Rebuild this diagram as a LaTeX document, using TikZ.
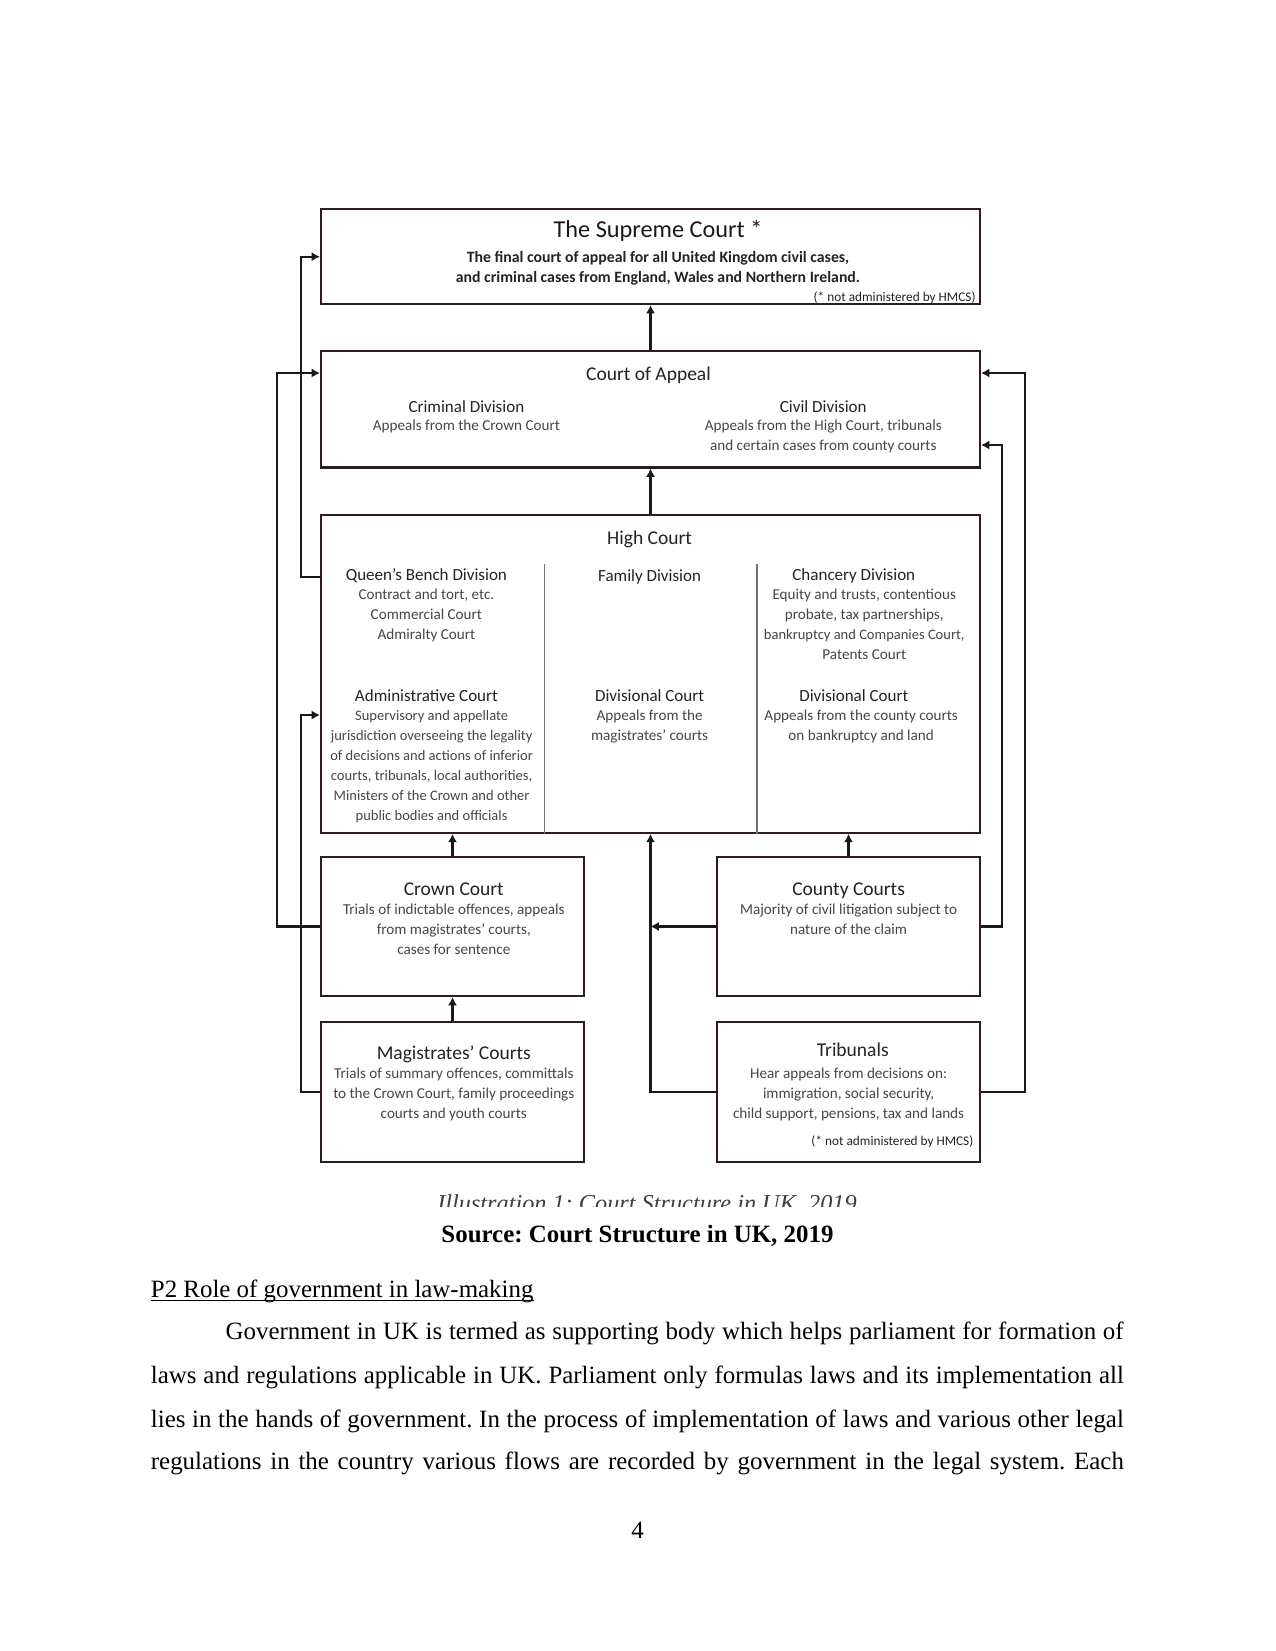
\documentclass[tikz,border=0pt]{standalone}
\usepackage{fontspec}
\setmainfont{Liberation Serif}
\newfontfamily\gs{Carlito}
\usetikzlibrary{arrows.meta,fit,calc}
\definecolor{boxcol}{RGB}{48,28,40}
\definecolor{txt}{RGB}{35,35,35}
\definecolor{txtb}{RGB}{70,70,70}
\frenchspacing
\begin{document}
\begin{tikzpicture}[x=0.48bp,y=-0.48bp,
  box/.style={draw=boxcol, line width=1bp, inner sep=0pt},
  conn/.style={draw=black!90, line width=1.05bp, -{Latex[length=4bp,width=4.4bp]}},
  divl/.style={draw=black!55, line width=0.55bp},
  ttl/.style={font=\gs\fontsize{11.7}{13}\selectfont, text=black!90, inner sep=0pt, anchor=mid},
  sub/.style={font=\gs\bfseries\fontsize{7.6}{9}\selectfont, text=txt, inner sep=0pt, anchor=mid},
  hd/.style={font=\gs\fontsize{9.4}{11}\selectfont, text=txt, inner sep=0pt, anchor=mid},
  dh/.style={font=\gs\fontsize{8.2}{10}\selectfont, text=txt, inner sep=0pt, anchor=mid},
  st/.style={font=\gs\fontsize{7.3}{9.6}\selectfont, text=txtb, inner sep=0pt, anchor=mid},
  sta/.style={st, font=\gs\fontsize{7.0}{9.6}\selectfont},
  note/.style={font=\gs\fontsize{6.4}{7}\selectfont, text=txt, inner sep=0pt, anchor=mid east},
  body/.style={font=\fontsize{12}{14}\selectfont, inner sep=0pt, anchor=base west},
  captxt/.style={font=\itshape\fontsize{11.7}{14}\selectfont, text=black!75, inner sep=0pt, anchor=base},
  src/.style={font=\bfseries\fontsize{12}{14}\selectfont, inner sep=0pt, anchor=base}]
\useasboundingbox[fill=white] (0,0) rectangle (1275,1651);

% boxes
\node[box, fit={(321,209) (980,304)}] (sc) {};
\node[box, fit={(321,351) (980,467.5)}] (coa) {};
\node[box, fit={(321,515) (980,832.8)}] (hc) {};
\node[box, fit={(321,857) (584,996)}] (cc) {};
\node[box, fit={(717,857) (980,996)}] (co) {};
\node[box, fit={(321,1022) (584,1162)}] (mc) {};
\node[box, fit={(717,1022) (980,1162)}] (tr) {};

% High Court dividers
\coordinate (d1t) at (544.3,564);
\coordinate (d2t) at (757,564);
\draw[divl] (d1t) -- (d1t |- hc.south);
\draw[divl] (d2t) -- (d2t |- hc.south);

% Supreme Court text
\node[ttl] (sct) at (658,233) {The Supreme Court *};
\node[sub] (sc1) at (658,258) {The final court of appeal for all United Kingdom civil cases,};
\node[sub] (sc2) at (658,278) {and criminal cases from England, Wales and Northern Ireland.};
\node[note] (scn) at (976,297) {(* not administered by HMCS)};

% Court of Appeal text
\node[hd] (coat) at (648.5,376) {Court of Appeal};
\node[dh] (crd) at (466.4,407.4) {Criminal Division};
\node[st] (crd1) at (466.4,425.3) {Appeals from the Crown Court};
\node[dh] (cvd) at (823.3,407.4) {Civil Division};
\node[st] (cvd1) at (823.3,425.3) {Appeals from the High Court, tribunals};
\node[st] (cvd2) at (823.3,445.3) {and certain cases from county courts};

% High Court text
\node[hd] (hct) at (649.6,540) {High Court};
\node[dh] (qb) at (426.4,575.8) {Queen’s Bench Division};
\node[st] (qb1) at (426.4,594.8) {Contract and tort, etc.};
\node[st] (qb2) at (426.4,614.8) {Commercial Court};
\node[st] (qb3) at (426.4,634.8) {Admiralty Court};
\node[dh] (fd) at (649.6,576.9) {Family Division};
\node[dh] (ch) at (853.8,575.8) {Chancery Division};
\node[st] (ch1) at (864.3,594.8) {Equity and trusts, contentious};
\node[st] (ch2) at (864.3,614.8) {probate, tax partnerships,};
\node[sta] (ch3) at (864.3,634.8) {bankruptcy and Companies Court,};
\node[st] (ch4) at (864.3,654.8) {Patents Court};
\node[dh] (ad) at (426.4,696.9) {Administrative Court};
\node[sta] (ad1) at (431.6,715.9) {Supervisory and appellate};
\node[sta] (ad2) at (431.6,735.9) {jurisdiction overseeing the legality};
\node[sta] (ad3) at (431.6,755.9) {of decisions and actions of inferior};
\node[sta] (ad4) at (431.6,775.9) {courts, tribunals, local authorities,};
\node[sta] (ad5) at (431.6,795.9) {Ministers of the Crown and other};
\node[sta] (ad6) at (431.6,815.9) {public bodies and officials};
\node[dh] (dv1) at (649.6,696.9) {Divisional Court};
\node[st] (dv11) at (649.6,715.9) {Appeals from the};
\node[st] (dv12) at (649.6,735.9) {magistrates’ courts};
\node[dh] (dv2) at (853.8,696.9) {Divisional Court};
\node[st] (dv21) at (861.2,715.9) {Appeals from the county courts};
\node[st] (dv22) at (861.2,735.9) {on bankruptcy and land};

% Crown Court
\node[hd] (cct) at (453.8,890.5) {Crown Court};
\node[st] (cc1) at (453.8,909.6) {Trials of indictable offences, appeals};
\node[st] (cc2) at (453.8,929.6) {from magistrates’ courts,};
\node[st] (cc3) at (453.8,949.6) {cases for sentence};
% County Courts
\node[hd] (cot) at (848.6,890.5) {County Courts};
\node[st] (co1) at (848.6,909.6) {Majority of civil litigation subject to};
\node[st] (co2) at (848.6,929.6) {nature of the claim};
% Magistrates
\node[hd] (mct) at (453.8,1054.8) {Magistrates’ Courts};
\node[st] (mc1) at (453.8,1073.9) {Trials of summary offences, committals};
\node[st] (mc2) at (453.8,1093.9) {to the Crown Court, family proceedings};
\node[st] (mc3) at (453.8,1113.9) {courts and youth courts};
% Tribunals
\node[hd] (trt) at (852.8,1051.6) {Tribunals};
\node[st] (tr1) at (848.6,1073.9) {Hear appeals from decisions on:};
\node[st] (tr2) at (848.6,1093.9) {immigration, social security,};
\node[st] (tr3) at (848.6,1113.9) {child support, pensions, tax and lands};
\node[note] (trn) at (973.8,1141.2) {(* not administered by HMCS)};

% connectors
\draw[conn] (coa.north) -- (sc.south);
\draw[conn] (hc.north) -- (coa.south);
\draw[conn] (cc.north) -- (cc.north |- hc.south);
\draw[conn] (co.north) -- (co.north |- hc.south);
\draw[conn] (mc.north) -- (cc.south);
\coordinate (qbp) at (321,577);
\coordinate (L1) at (277,373);
\coordinate (L2) at (300.7,256.7);
\coordinate (L3) at (300.7,715);
\coordinate (R1) at (1025,373);
\coordinate (R2) at (1002,445);
\draw[conn] (cc.west) -| (L1) -- (L1 -| coa.west);
\draw[conn] (qbp) -| (L2) -- (L2 -| sc.west);
\draw[conn] (mc.west) -| (L3) -- (L3 -| hc.west);
\draw[conn] (tr.east) -| (R1) -- (R1 -| coa.east);
\draw[conn] (co.east) -| (R2) -- (R2 -| coa.east);
\draw[conn] (tr.west) -| (hc.south);
\draw[conn] (co.west) -- (co.west -| hc.south);

% caption (clipped)
\begin{scope}
\clip (0,1180) rectangle (1275,1206);
\node[captxt] (capt) at (647,1211.5) {Illustration 1: Court Structure in UK, 2019};
\end{scope}
\node[src] (srct) at (637.5,1242) {Source: Court Structure in UK, 2019};

% body text
\node[body] (h2) at (150.5,1297) {P2 Role of government in law-making};
\draw[line width=0.6bp] ([yshift=-1.6bp]h2.base west) -- ([yshift=-1.6bp]h2.base east);
\node[body] (p1) at (225.3,1339) {\makebox[431bp][s]{Government in UK is termed as supporting body which helps parliament for formation of}};
\node[body] (p2) at (150.5,1383) {\makebox[467bp][s]{laws and regulations applicable in UK. Parliament only formulas laws and its implementation all}};
\node[body] (p3) at (150.5,1427) {\makebox[467bp][s]{lies in the hands of government. In the process of implementation of laws and various other legal}};
\node[body] (p4) at (150.5,1469) {\makebox[467bp][s]{regulations in the country various flows are recorded by government in the legal system. Each}};
\node[body, anchor=base] (pg) at (637.5,1538) {4};
\end{tikzpicture}
\end{document}
